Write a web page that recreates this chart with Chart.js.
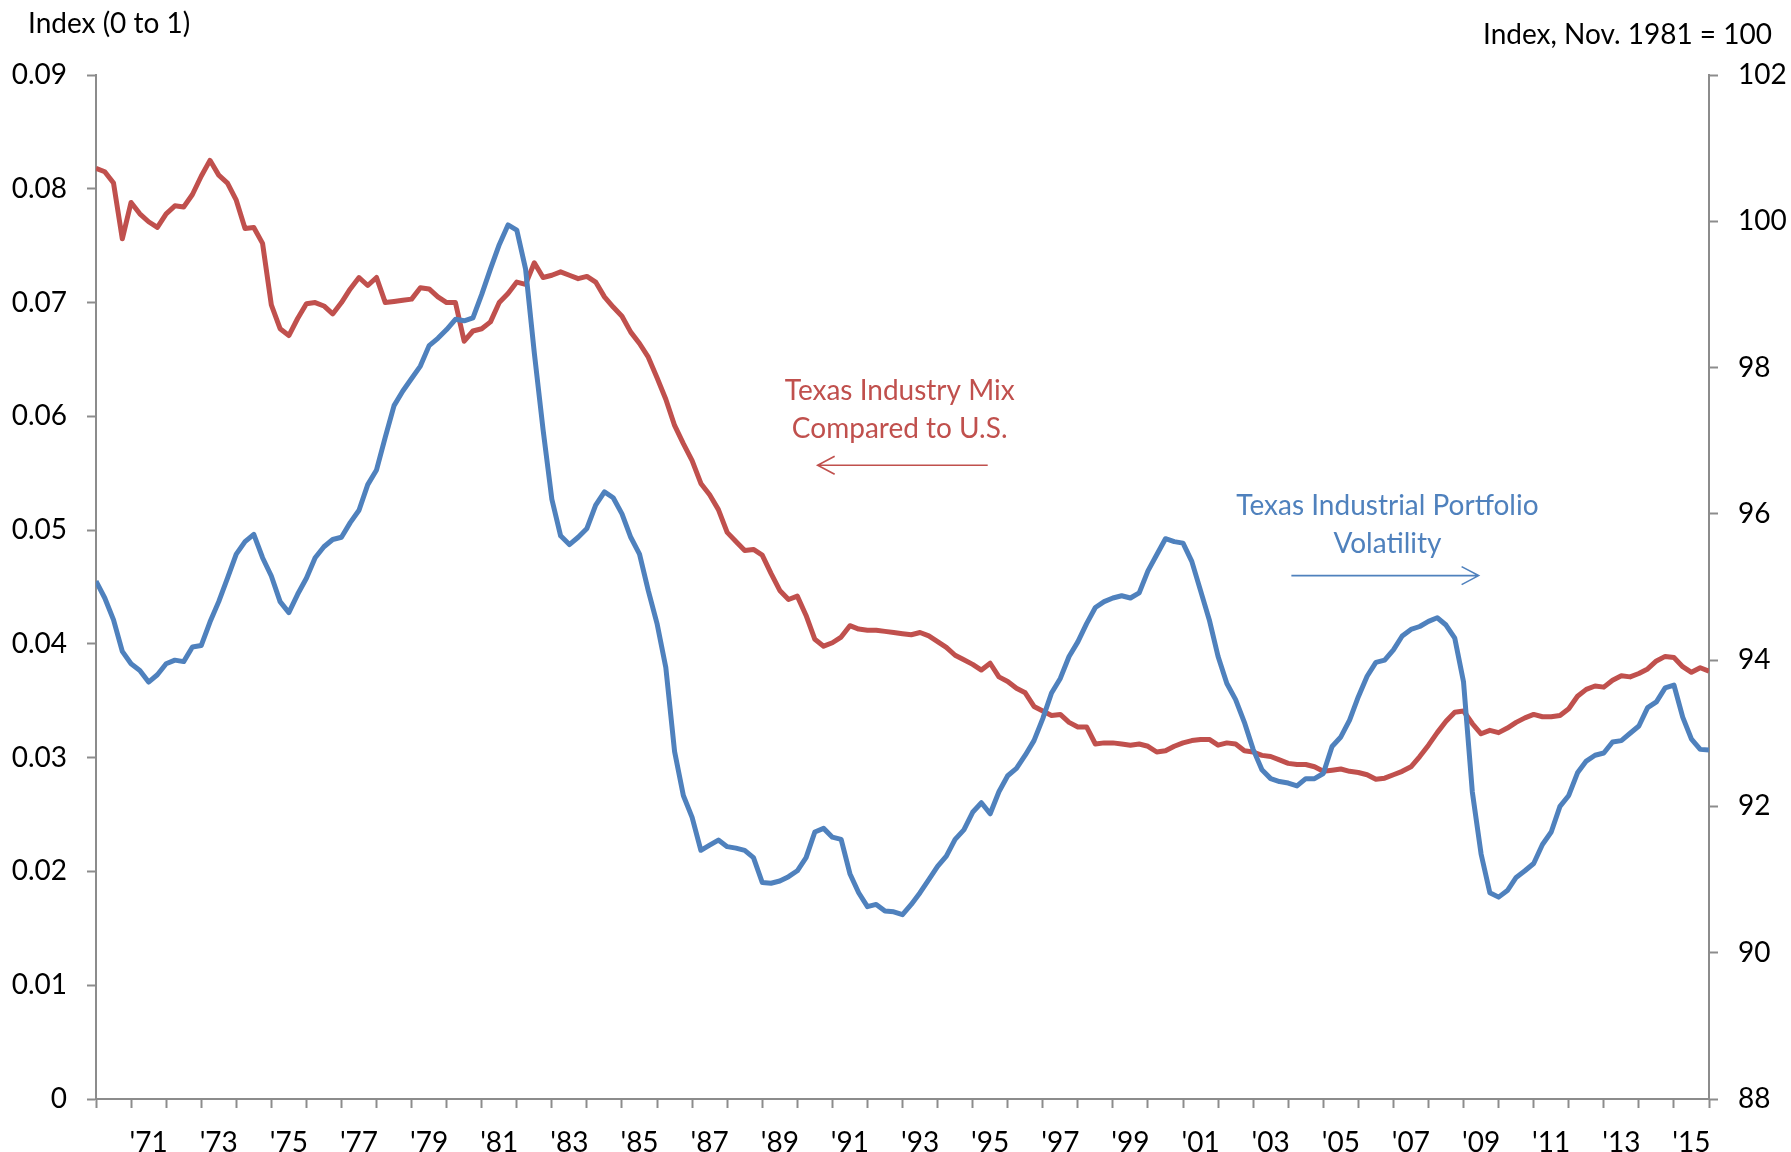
<!DOCTYPE html>
<html>
<head>
<meta charset="utf-8">
<script src="https://cdn.jsdelivr.net/npm/chart.js@4.4.1/dist/chart.umd.min.js"></script>
<style>
  html, body { margin: 0; padding: 0; background: #fff; }
  #wrap { width: 1791px; height: 1152px; position: relative; }
</style>
</head>
<body>
<div id="wrap"><canvas id="chart"></canvas></div>
<script>
// 四半期ごとの値 (1970年初め〜2015年末)
const startYear = 1970;

// Texas Industry Mix Compared to U.S. (左軸, 0〜1の指数)
const industryMix = [
  0.0818, 0.0815, 0.0805, 0.0756, 0.0788, 0.0778, 0.0771, 0.0766,
  0.0778, 0.0785, 0.0784, 0.0795, 0.0811, 0.0825, 0.0812, 0.0805,
  0.0790, 0.0765, 0.0766, 0.0752, 0.0698, 0.0677, 0.0671, 0.0686,
  0.0699, 0.0700, 0.0697, 0.0690, 0.0700, 0.0712, 0.0722, 0.0715,
  0.0722, 0.0700, 0.0701, 0.0702, 0.0703, 0.0713, 0.0712, 0.0705,
  0.0700, 0.0700, 0.0666, 0.0675, 0.0677, 0.0683, 0.0700, 0.0708,
  0.0718, 0.0716, 0.0735, 0.0722, 0.0724, 0.0727, 0.0724, 0.0721,
  0.0723, 0.0718, 0.0705, 0.0696, 0.0688, 0.0674, 0.0664, 0.0652,
  0.0634, 0.0615, 0.0592, 0.0576, 0.0561, 0.0541, 0.0531, 0.0518,
  0.0498, 0.0490, 0.0482, 0.0483, 0.0478, 0.0462, 0.0447, 0.0439,
  0.0442, 0.0425, 0.0404, 0.0398, 0.0401, 0.0406, 0.0416, 0.0413,
  0.0412, 0.0412, 0.0411, 0.0410, 0.0409, 0.0408, 0.0410, 0.0407,
  0.0402, 0.0397, 0.0390, 0.0386, 0.0382, 0.0377, 0.0383, 0.0371,
  0.0367, 0.0361, 0.0357, 0.0345, 0.0341, 0.0337, 0.0338, 0.0331,
  0.0327, 0.0327, 0.0312, 0.0313, 0.0313, 0.0312, 0.0311, 0.0312,
  0.0310, 0.0305, 0.0306, 0.0310, 0.0313, 0.0315, 0.0316, 0.0316,
  0.0311, 0.0313, 0.0312, 0.0306, 0.0305, 0.0302, 0.0301, 0.0298,
  0.0295, 0.0294, 0.0294, 0.0292, 0.0288, 0.0289, 0.0290, 0.0288,
  0.0287, 0.0285, 0.0281, 0.0282, 0.0285, 0.0288, 0.0292, 0.0301,
  0.0311, 0.0322, 0.0332, 0.0340, 0.0341, 0.0330, 0.0321, 0.0324,
  0.0322, 0.0326, 0.0331, 0.0335, 0.0338, 0.0336, 0.0336, 0.0337,
  0.0343, 0.0354, 0.0360, 0.0363, 0.0362, 0.0368, 0.0372, 0.0371,
  0.0374, 0.0378, 0.0385, 0.0389, 0.0388, 0.0380, 0.0375, 0.0379,
  0.0376
];

// Texas Industrial Portfolio Volatility (右軸, 1981年11月 = 100)
const portfolioVolatility = [
  95.08, 94.85, 94.55, 94.12, 93.95, 93.86, 93.70, 93.80,
  93.95, 94.00, 93.98, 94.18, 94.20, 94.52, 94.80, 95.12,
  95.45, 95.62, 95.72, 95.40, 95.15, 94.80, 94.65, 94.90,
  95.12, 95.40, 95.55, 95.65, 95.68, 95.88, 96.05, 96.40,
  96.60, 97.05, 97.48, 97.68, 97.85, 98.02, 98.30, 98.40,
  98.52, 98.66, 98.64, 98.68, 99.00, 99.35, 99.68, 99.95,
  99.88, 99.35, 98.20, 97.15, 96.20, 95.70, 95.58, 95.68,
  95.80, 96.12, 96.30, 96.22, 96.00, 95.68, 95.45, 94.95,
  94.50, 93.90, 92.75, 92.15, 91.85, 91.40, 91.47, 91.54,
  91.45, 91.43, 91.40, 91.30, 90.96, 90.95, 90.98, 91.04,
  91.12, 91.30, 91.65, 91.70, 91.58, 91.55, 91.08, 90.82,
  90.63, 90.66, 90.57, 90.56, 90.52, 90.66, 90.82, 91.00,
  91.18, 91.32, 91.55, 91.68, 91.92, 92.05, 91.90, 92.20,
  92.42, 92.52, 92.70, 92.90, 93.20, 93.55, 93.75, 94.05,
  94.25, 94.50, 94.72, 94.80, 94.85, 94.88, 94.85, 94.92,
  95.22, 95.44, 95.66, 95.62, 95.60, 95.35, 94.95, 94.55,
  94.05, 93.68, 93.46, 93.15, 92.78, 92.50, 92.38, 92.34,
  92.32, 92.28, 92.38, 92.38, 92.45, 92.82, 92.95, 93.18,
  93.50, 93.78, 93.97, 94.00, 94.14, 94.33, 94.42, 94.46,
  94.53, 94.58, 94.48, 94.30, 93.70, 92.20, 91.35, 90.82,
  90.76, 90.85, 91.03, 91.12, 91.22, 91.48, 91.65, 92.00,
  92.15, 92.46, 92.62, 92.70, 92.73, 92.88, 92.90, 93.00,
  93.10, 93.35, 93.43, 93.62, 93.66, 93.22, 92.92, 92.78,
  92.77
];

// 目盛りのラベル
const xTickLabels = ["'71", "'73", "'75", "'77", "'79", "'81", "'83", "'85", "'87", "'89", "'91",
                     "'93", "'95", "'97", "'99", "'01", "'03", "'05", "'07", "'09", "'11", "'13", "'15"];
const leftTicks = [0, 0.01, 0.02, 0.03, 0.04, 0.05, 0.06, 0.07, 0.08, 0.09];
const rightTicks = [88, 90, 92, 94, 96, 98, 100, 102];

const leftTitle = 'Index (0 to 1)';
const rightTitle = 'Index, Nov. 1981 = 100';

const RED = '#C0504D';
const BLUE = '#4F81BD';
const AXIS_GRAY = '#8C8C8C';
const FONT = 'Lato, "Open Sans", sans-serif';

// 注記 (データ座標で位置を指定)
const notes = [
  { lines: ['Texas Industry Mix', 'Compared to U.S.'], color: RED, x: 1992.92, y: [0.0622, 0.0589],
    arrow: { from: 1995.43, to: 1990.58, y: 0.0557 } },
  { lines: ['Texas Industrial Portfolio', 'Volatility'], color: BLUE, x: 2006.83, y: [0.0521, 0.0488],
    arrow: { from: 2004.09, to: 2009.43, y: 0.0460 } }
];

const quarters = industryMix.map((_, i) => startYear + i / 4);

// 軸タイトルと注記を描くプラグイン
const notesPlugin = {
  id: 'notes',
  afterDraw(chart) {
    const { ctx } = chart;
    const xs = chart.scales.x;
    const ys = chart.scales.y;
    ctx.save();
    ctx.font = '28px ' + FONT;
    ctx.textBaseline = 'middle';
    ctx.fillStyle = '#000';
    ctx.textAlign = 'left';
    ctx.fillText(leftTitle, 28, 24);
    ctx.textAlign = 'right';
    ctx.fillText(rightTitle, 1772, 35);

    notes.forEach(note => {
      ctx.fillStyle = note.color;
      ctx.strokeStyle = note.color;
      ctx.textAlign = 'center';
      note.lines.forEach((line, i) => {
        ctx.fillText(line, xs.getPixelForValue(note.x), ys.getPixelForValue(note.y[i]));
      });
      const x0 = xs.getPixelForValue(note.arrow.from);
      const x1 = xs.getPixelForValue(note.arrow.to);
      const ay = ys.getPixelForValue(note.arrow.y);
      const dir = x1 > x0 ? -1 : 1;
      ctx.lineWidth = 1.6;
      ctx.beginPath();
      ctx.moveTo(x0, ay);
      ctx.lineTo(x1, ay);
      ctx.moveTo(x1 + dir * 17, ay - 9);
      ctx.lineTo(x1, ay);
      ctx.lineTo(x1 + dir * 17, ay + 9);
      ctx.stroke();
    });
    ctx.restore();
  }
};

const tickFont = { family: FONT, size: 28 };

new Chart(document.getElementById('chart'), {
  type: 'line',
  data: {
    labels: quarters,
    datasets: [
      {
        label: 'Texas Industry Mix Compared to U.S.',
        data: industryMix.map((v, i) => ({ x: quarters[i], y: v })),
        borderColor: RED,
        borderWidth: 5,
        pointRadius: 0,
        tension: 0,
        borderJoinStyle: 'round',
        yAxisID: 'y',
        order: 1
      },
      {
        label: 'Texas Industrial Portfolio Volatility',
        data: portfolioVolatility.map((v, i) => ({ x: quarters[i], y: v })),
        borderColor: BLUE,
        borderWidth: 5,
        pointRadius: 0,
        tension: 0,
        borderJoinStyle: 'round',
        yAxisID: 'y1',
        order: 0
      }
    ]
  },
  options: {
    responsive: true,
    maintainAspectRatio: false,
    animation: false,
    layout: { padding: { top: 75, left: 0, right: 0, bottom: 0 } },
    plugins: {
      legend: { display: false },
      title: { display: false },
      tooltip: { enabled: false }
    },
    scales: {
      x: {
        type: 'linear',
        min: 1970,
        max: 2016,
        afterBuildTicks: scale => {
          const t = [];
          for (let yr = 1970; yr <= 2016; yr++) {
            t.push({ value: yr });
            const idx = (yr - 1971) / 2;
            if (Number.isInteger(idx) && idx >= 0 && idx < xTickLabels.length) {
              t.push({ value: yr + 0.5 });
            }
          }
          scale.ticks = t;
        },
        afterFit: scale => { scale.height = 53; },
        ticks: {
          autoSkip: false,
          maxRotation: 0,
          padding: 18,
          color: '#000',
          font: tickFont,
          callback: value => {
            if (Number.isInteger(value)) return '';
            return xTickLabels[(Math.floor(value) - 1971) / 2] || '';
          }
        },
        grid: {
          drawOnChartArea: false,
          drawTicks: true,
          tickLength: 9,
          tickWidth: 2,
          tickColor: ctx => (ctx.tick && Number.isInteger(ctx.tick.value)) ? AXIS_GRAY : 'rgba(0,0,0,0)'
        },
        border: { display: true, color: AXIS_GRAY, width: 2 }
      },
      y: {
        type: 'linear',
        position: 'left',
        min: 0,
        max: 0.09,
        afterBuildTicks: scale => { scale.ticks = leftTicks.map(v => ({ value: v })); },
        afterFit: scale => { scale.width = 96; },
        ticks: {
          padding: 20,
          color: '#000',
          font: tickFont,
          callback: value => value === 0 ? '0' : value.toFixed(2)
        },
        grid: { drawOnChartArea: false, tickLength: 9, tickWidth: 2, tickColor: AXIS_GRAY },
        border: { display: true, color: AXIS_GRAY, width: 2 }
      },
      y1: {
        type: 'linear',
        position: 'right',
        min: 88,
        max: 102,
        afterBuildTicks: scale => { scale.ticks = rightTicks.map(v => ({ value: v })); },
        afterFit: scale => { scale.width = 82; },
        ticks: {
          padding: 20,
          color: '#000',
          font: tickFont,
          callback: value => String(value)
        },
        grid: { drawOnChartArea: false, tickLength: 9, tickWidth: 2, tickColor: AXIS_GRAY },
        border: { display: true, color: AXIS_GRAY, width: 2 }
      }
    }
  },
  plugins: [notesPlugin]
});
</script>
</body>
</html>
